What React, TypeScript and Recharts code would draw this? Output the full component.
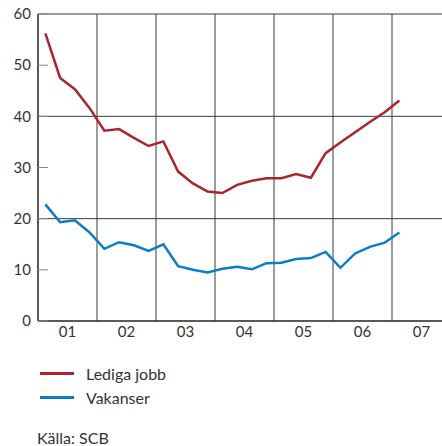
import { CartesianGrid, Line, LineChart, XAxis, YAxis } from "recharts";

// quarters 2001K1 .. 2007K1
const quarters = [
  "2001K1", "2001K2", "2001K3", "2001K4",
  "2002K1", "2002K2", "2002K3", "2002K4",
  "2003K1", "2003K2", "2003K3", "2003K4",
  "2004K1", "2004K2", "2004K3", "2004K4",
  "2005K1", "2005K2", "2005K3", "2005K4",
  "2006K1", "2006K2", "2006K3", "2006K4",
  "2007K1",
];
const lediga = [
  56.2, 47.5, 45.3, 41.6,
  37.2, 37.5, 35.8, 34.2,
  35.1, 29.2, 26.9, 25.3,
  25.0, 26.6, 27.4, 27.9,
  27.9, 28.7, 28.0, 32.8,
  34.9, 36.9, 38.9, 40.8,
  43.1,
];
const vakanser = [
  22.8, 19.3, 19.7, 17.3,
  14.1, 15.4, 14.8, 13.7,
  15.0, 10.7, 10.0, 9.5,
  10.2, 10.6, 10.1, 11.3,
  11.4, 12.1, 12.3, 13.5,
  10.4, 13.2, 14.5, 15.3,
  17.3,
];
const years = ["01", "02", "03", "04", "05", "06", "07"];
const yTicks = [0, 10, 20, 30, 40, 50, 60];
const yGrid = [20, 40, 60];

const RED = "#a9262f";
const BLUE = "#0a7dc8";
const FONT = "Lato, 'Open Sans', sans-serif";

const data = quarters.map((q, i) => ({ q, pos: i + 0.5, lediga: lediga[i], vakanser: vakanser[i] }));
const yearBounds = years.slice(0, -1).map((_, i) => (i + 1) * 4);
const yearMids = years.map((_, i) => i * 4 + 2);

export default function App() {
  return (
    <div style={{ position: "absolute", left: 0, top: 0, width: 442, height: 446, overflow: "hidden", background: "#fff", fontFamily: FONT, color: "#333" }}>
      <LineChart width={451} height={346} data={data} margin={{ top: 14, right: 0, bottom: 0, left: 0 }}>
        <CartesianGrid stroke="#3a3a3a" horizontalValues={yGrid} verticalValues={yearBounds} />
        <XAxis
          dataKey="pos"
          type="number"
          domain={[0, 28]}
          ticks={yearMids}
          tickFormatter={(v: number) => years[(v - 2) / 4]}
          tickLine={false}
          tickSize={0}
          tickMargin={5}
          height={25}
          axisLine={{ stroke: "#222", strokeWidth: 1.5 }}
          tick={{ fill: "#333", fontSize: 15, fontFamily: FONT }}
        />
        <YAxis
          domain={[0, 60]}
          ticks={yTicks}
          width={38}
          tickSize={-10}
          tickMargin={17}
          tickLine={{ stroke: "#888" }}
          axisLine={{ stroke: "#222", strokeWidth: 1.5 }}
          tick={{ fill: "#333", fontSize: 15, fontFamily: FONT }}
        />
        <Line dataKey="lediga" stroke={RED} strokeWidth={2.5} dot={false} isAnimationActive={false} />
        <Line dataKey="vakanser" stroke={BLUE} strokeWidth={2.5} dot={false} isAnimationActive={false} />
      </LineChart>
      {[{ name: "Lediga jobb", color: RED, top: 362 }, { name: "Vakanser", color: BLUE, top: 386 }].map((s) => (
        <div key={s.name} style={{ position: "absolute", left: 40, top: s.top, height: 22, display: "flex", alignItems: "center", fontSize: 16 }}>
          <span style={{ display: "inline-block", width: 34, height: 3, background: s.color, marginRight: 12 }} />
          <span>{s.name}</span>
        </div>
      ))}
      <div style={{ position: "absolute", left: 37, top: 430, fontSize: 16, lineHeight: "16px" }}>Källa: SCB</div>
    </div>
  );
}
